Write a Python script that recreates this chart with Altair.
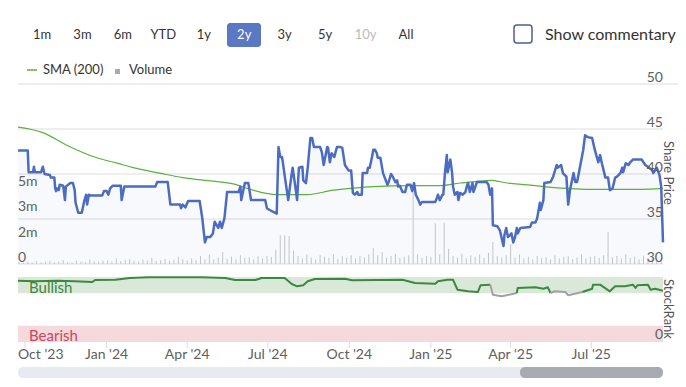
import altair as alt
import pandas as pd

# ---------------- data ----------------
price_dates = [
    "2023-09-23", "2023-10-04", "2023-10-05", "2023-10-10", "2023-10-11", "2023-10-12", "2023-10-19",
    "2023-10-21", "2023-10-23", "2023-10-29", "2023-10-30", "2023-11-03", "2023-11-04", "2023-11-05",
    "2023-11-06", "2023-11-08", "2023-11-09", "2023-11-13", "2023-11-15", "2023-11-16", "2023-11-21",
    "2023-11-24", "2023-11-26", "2023-11-27", "2023-11-30", "2023-12-04", "2023-12-07", "2023-12-09",
    "2023-12-10", "2023-12-12", "2023-12-14", "2023-12-27", "2023-12-29", "2024-01-01", "2024-01-03",
    "2024-01-05", "2024-01-08", "2024-01-17", "2024-01-18", "2024-01-21", "2024-02-25", "2024-02-27",
    "2024-03-10", "2024-03-13", "2024-03-24", "2024-03-25", "2024-03-27", "2024-03-30", "2024-04-02",
    "2024-04-15", "2024-04-18", "2024-04-21", "2024-04-23", "2024-04-27", "2024-04-30", "2024-05-02",
    "2024-05-06", "2024-05-08", "2024-05-10", "2024-05-13", "2024-05-16", "2024-05-29", "2024-05-31",
    "2024-06-01", "2024-06-05", "2024-06-09", "2024-06-12", "2024-06-28", "2024-06-30", "2024-07-03",
    "2024-07-11", "2024-07-13", "2024-07-15", "2024-07-17", "2024-07-24", "2024-07-28", "2024-07-29",
    "2024-08-02", "2024-08-03", "2024-08-05", "2024-08-09", "2024-08-10", "2024-08-13", "2024-08-15",
    "2024-08-18", "2024-08-20", "2024-08-22", "2024-08-29", "2024-08-31", "2024-09-02", "2024-09-06",
    "2024-09-07", "2024-09-09", "2024-09-11", "2024-09-14", "2024-09-17", "2024-09-21", "2024-09-23",
    "2024-09-26", "2024-09-30", "2024-10-03", "2024-10-05", "2024-10-07", "2024-10-10", "2024-10-11",
    "2024-10-15", "2024-10-16", "2024-10-21", "2024-10-22", "2024-10-24", "2024-10-27", "2024-10-28",
    "2024-10-30", "2024-11-01", "2024-11-02", "2024-11-05", "2024-11-08", "2024-11-13", "2024-11-14",
    "2024-11-17", "2024-11-19", "2024-11-22", "2024-11-24", "2024-11-25", "2024-11-27", "2024-11-30",
    "2024-12-03", "2024-12-05", "2024-12-09", "2024-12-11", "2024-12-13", "2024-12-15", "2024-12-18",
    "2024-12-20", "2024-12-22", "2025-01-06", "2025-01-08", "2025-01-09", "2025-01-11", "2025-01-14",
    "2025-01-15", "2025-01-17", "2025-01-19", "2025-01-20", "2025-01-23", "2025-01-25", "2025-01-26",
    "2025-01-28", "2025-01-31", "2025-02-01", "2025-02-03", "2025-02-06", "2025-02-09", "2025-02-11",
    "2025-02-12", "2025-02-14", "2025-02-17", "2025-02-18", "2025-02-22", "2025-03-05", "2025-03-07",
    "2025-03-09", "2025-03-11", "2025-03-12", "2025-03-17", "2025-03-20", "2025-03-24", "2025-03-25",
    "2025-03-27", "2025-03-29", "2025-04-02", "2025-04-04", "2025-04-06", "2025-04-08", "2025-04-09",
    "2025-04-12", "2025-04-23", "2025-04-25", "2025-04-29", "2025-05-01", "2025-05-04", "2025-05-05",
    "2025-05-08", "2025-05-09", "2025-05-16", "2025-05-19", "2025-05-23", "2025-05-24", "2025-05-28",
    "2025-05-30", "2025-06-03", "2025-06-05", "2025-06-07", "2025-06-11", "2025-06-13", "2025-06-15",
    "2025-06-17", "2025-06-22", "2025-06-24", "2025-06-27", "2025-07-02", "2025-07-05", "2025-07-09",
    "2025-07-11", "2025-07-13", "2025-07-17", "2025-07-20", "2025-07-22", "2025-07-25", "2025-07-28",
    "2025-07-30", "2025-08-03", "2025-08-05", "2025-08-06", "2025-08-09", "2025-08-12", "2025-08-14",
    "2025-08-17", "2025-08-27", "2025-08-31", "2025-09-03", "2025-09-08", "2025-09-09", "2025-09-13",
    "2025-09-16", "2025-09-18", "2025-09-20",
]
price_close = [
    42.6, 42.6, 40.2, 40.2, 40.8, 40.2, 40.2,
    40.8, 40.0, 39.9, 39.6, 39.6, 38.4, 38.1,
    38.4, 38.2, 38.8, 38.7, 37.1, 38.6, 39.0,
    39.0, 38.2, 36.8, 35.7, 35.7, 37.1, 37.7,
    36.6, 37.7, 37.6, 37.6, 38.1, 38.1, 37.7,
    38.4, 38.7, 38.7, 37.1, 38.6, 38.6, 39.1,
    39.1, 36.6, 36.6, 36.2, 36.6, 36.3, 37.0,
    37.0, 35.1, 32.4, 33.0, 33.0, 33.4, 34.7,
    34.0, 34.7, 34.0, 35.1, 38.0, 38.0, 38.6,
    37.1, 39.0, 39.0, 37.1, 37.1, 36.2, 36.0,
    35.6, 43.0, 41.9, 41.9, 37.1, 40.1, 40.7,
    37.9, 37.1, 40.7, 40.8, 39.3, 39.0, 40.7,
    44.0, 44.0, 43.0, 43.0, 42.4, 41.0, 43.0,
    42.9, 41.3, 42.3, 41.9, 43.0, 43.0, 42.9,
    41.0, 40.4, 40.4, 37.9, 37.7, 38.0, 37.7,
    37.7, 40.1, 40.1, 40.7, 40.7, 42.1, 42.7,
    42.7, 42.3, 41.8, 41.8, 40.1, 38.8, 39.0,
    40.0, 39.7, 39.1, 39.3, 38.6, 38.7, 38.0,
    38.0, 38.8, 38.8, 38.1, 39.0, 37.7, 37.1,
    36.6, 36.9, 36.9, 37.4, 37.7, 37.1, 37.7,
    37.7, 40.2, 42.1, 40.2, 41.6, 40.1, 38.6,
    37.7, 38.0, 37.1, 37.9, 37.7, 38.0, 38.8,
    39.0, 38.0, 39.0, 38.0, 39.1, 39.1, 38.8,
    37.7, 38.4, 34.3, 34.2, 33.7, 32.0, 33.2,
    34.0, 33.0, 33.4, 32.4, 33.0, 34.0, 33.4,
    34.0, 34.1, 34.6, 34.6, 35.1, 36.8, 36.0,
    37.1, 39.0, 39.1, 39.7, 41.0, 40.7, 41.0,
    40.1, 39.7, 36.6, 38.2, 40.1, 39.1, 39.1,
    40.1, 42.7, 44.3, 44.1, 44.0, 42.7, 41.3,
    42.1, 41.2, 39.6, 39.6, 38.2, 38.4, 39.6,
    39.7, 40.1, 40.7, 40.2, 41.2, 41.0, 41.3,
    41.6, 41.6, 41.0, 40.8, 40.4, 40.1, 40.7,
    39.9, 38.6, 32.4,
]

sma_dates = [
    "2023-09-23", "2023-10-06", "2023-10-21", "2023-11-17", "2023-12-21", "2024-01-13", "2024-01-31",
    "2024-03-01", "2024-03-27", "2024-04-30", "2024-05-23", "2024-06-14", "2024-07-11", "2024-07-26",
    "2024-08-14", "2024-09-13", "2024-10-02", "2024-10-28", "2024-12-12", "2025-01-11", "2025-02-03",
    "2025-02-26", "2025-03-09", "2025-03-28", "2025-04-20", "2025-05-08", "2025-06-04", "2025-06-26",
    "2025-07-25", "2025-08-25", "2025-09-20",
]
sma_200 = [
    45.2, 45.0, 44.6, 43.2, 41.8, 41.2, 40.7,
    40.1, 39.6, 39.2, 38.9, 38.2, 37.7, 37.7,
    37.7, 38.2, 38.4, 38.6, 38.7, 38.7, 39.0,
    39.2, 39.3, 39.0, 38.8, 38.6, 38.4, 38.3,
    38.3, 38.3, 38.4,
]

# volume, one reading every 5 days from 24 Sep 2023 (millions of shares)
volume_start = "2023-09-24"
volume_m = [
    0.12, 0.08, 0.15, 0.1, 0.18, 0.09, 0.14, 0.2, 0.11, 0.16, 0.25, 0.13, 0.1, 0.22, 0.15, 0.12, 0.3, 0.18, 0.14, 0.2,
    0.22, 0.15, 0.35, 0.18, 0.25, 0.3, 0.2, 0.16, 0.28, 0.22, 0.4, 0.19, 0.24, 0.32, 0.21, 0.27, 0.45, 0.3, 0.23,
    0.35, 0.25, 0.5, 0.3, 0.6, 0.28, 0.4, 0.75, 0.33, 0.45, 0.3, 0.55, 0.38, 0.42, 0.3, 0.48, 0.35, 0.5,
    0.45, 0.9, 1.8, 1.8, 1.75, 0.85,
    0.5, 0.35, 0.6, 0.4, 0.3, 0.55, 0.45, 0.38, 0.62, 0.33, 0.48, 0.4, 0.55,
    0.35, 0.5, 0.42, 0.6, 1.0, 0.55, 0.75, 0.4, 0.5, 0.65, 0.38, 0.45, 0.55, 4.9, 0.6, 0.4, 0.5,
    0.45, 2.55, 0.6, 2.6, 0.95, 0.5, 0.4, 0.65, 0.35, 0.55, 0.45, 0.6, 0.38, 0.7, 1.38, 0.5, 0.42, 0.55,
    1.25, 0.4, 0.6, 0.35, 0.45, 0.3, 0.5, 0.38, 0.42, 0.3, 0.55, 0.35, 0.45, 0.5, 0.32, 0.4, 0.6, 0.35,
    0.45, 0.5, 0.38, 0.55, 2.0, 0.42, 0.5, 0.35, 0.6, 0.4, 0.45, 0.3, 0.52, 0.38, 0.45, 0.35, 0.4,
]

rank_dates = [
    "2023-09-23", "2023-10-12", "2023-11-07", "2023-11-26", "2023-12-16", "2023-12-19", "2024-01-11",
    "2024-01-27", "2024-02-17", "2024-04-18", "2024-05-14", "2024-05-25", "2024-06-17", "2024-06-24",
    "2024-07-20", "2024-07-28", "2024-08-03", "2024-08-10", "2024-08-15", "2024-08-23", "2024-09-26",
    "2024-10-04", "2024-11-30", "2024-12-14", "2025-01-06", "2025-01-09", "2025-01-20", "2025-01-26",
    "2025-01-31", "2025-02-12", "2025-02-23", "2025-02-26", "2025-03-09", "2025-03-12", "2025-03-22",
    "2025-04-08", "2025-04-09", "2025-04-29", "2025-05-08", "2025-05-13", "2025-05-16", "2025-05-21",
    "2025-06-02", "2025-06-05", "2025-06-21", "2025-07-02", "2025-07-03", "2025-07-11", "2025-07-22",
    "2025-07-28", "2025-08-08", "2025-08-17", "2025-08-20", "2025-08-22", "2025-09-03", "2025-09-06",
    "2025-09-11", "2025-09-20",
]
stock_rank = [
    94.3, 93.4, 94.3, 93.4, 92.3, 95.4, 95.8,
    98.5, 99.5, 99.5, 98.5, 95.4, 95.4, 98.5,
    98.5, 89.2, 85.7, 87.2, 93.4, 96.9, 97.4,
    94.9, 95.8, 90.8, 89.7, 93.4, 95.8, 95.8,
    80.5, 78.0, 76.9, 87.2, 88.2, 72.8, 70.3,
    75.4, 83.1, 84.2, 82.0, 84.2, 75.4, 78.0,
    76.9, 71.8, 76.9, 82.0, 88.2, 88.2, 78.0,
    85.7, 85.7, 88.2, 83.1, 87.2, 88.2, 80.5,
    82.0, 78.9,
]
# style of the stretch that starts at each point: b = bullish (green), n = neutral (grey)
rank_style = [
    "b", "b", "b", "b", "b", "b", "b",
    "b", "b", "b", "b", "b", "b", "b",
    "b", "b", "b", "b", "b", "b", "b",
    "b", "b", "b", "b", "b", "b", "b",
    "b", "b", "b", "b", "n", "n", "n",
    "b", "b", "b", "b", "b", "n", "n",
    "n", "n", "b", "b", "b", "b", "b",
    "b", "b", "b", "b", "b", "b", "b",
    "b", "b",
]

rank_bands_lo = [75, 0]
rank_bands_hi = [100, 25]
rank_bands_kind = ["Bullish", "Bearish"]

price_ticks = [30, 35, 40, 45, 50]
volume_ticks = [0, 1.6e6, 3.2e6, 4.8e6]
volume_tick_labels = ["0", "2m", "3m", "5m"]
month_dates = ["2023-10-01", "2024-01-01", "2024-04-01", "2024-07-01",
               "2024-10-01", "2025-01-01", "2025-04-01", "2025-07-01"]
month_labels = ["Oct '23", "Jan '24", "Apr '24", "Jul '24",
                "Oct '24", "Jan '25", "Apr '25", "Jul '25"]
range_buttons = ["1m", "3m", "6m", "YTD", "1y", "2y", "3y", "5y", "10y", "All"]

# ---------------- tables ----------------
price_df = pd.DataFrame({"date": price_dates, "price": price_close})
sma_df = pd.DataFrame({"date": sma_dates, "sma": sma_200})
vol_df = pd.DataFrame({
    "date": pd.date_range(volume_start, periods=len(volume_m), freq="5D").strftime("%Y-%m-%d"),
    "vol": [v * 1e6 for v in volume_m],
})
rows = []
seg = 0
start = 0
n = len(rank_dates)
for i in range(1, n):
    if i == n - 1 or rank_style[i] != rank_style[i - 1]:
        for j in range(start, i + 1):
            rows.append({"date": rank_dates[j], "rank": stock_rank[j],
                         "style": rank_style[start], "seg": seg})
        seg += 1
        start = i
rank_df = pd.DataFrame(rows)
bands_df = pd.DataFrame({"lo": rank_bands_lo, "hi": rank_bands_hi, "kind": rank_bands_kind})
pticks_df = pd.DataFrame({"v": price_ticks, "lbl": [str(t) for t in price_ticks]})
vticks_df = pd.DataFrame({"v": volume_ticks, "lbl": volume_tick_labels})
months_df = pd.DataFrame({"date": month_dates, "lbl": month_labels})
buttons_df = pd.DataFrame({"b": range_buttons})

# ---------------- scales ----------------
FONT = "Lato"
XS = alt.Scale(type="utc",
               domain=[alt.DateTime(year=2023, month=9, date=23, utc=True),
                       alt.DateTime(year=2025, month=9, date=20, utc=True)],
               range=[10, 655])
PS = alt.Scale(domain=[30, 50], range=[256, 76], nice=False, zero=False)
VS = alt.Scale(domain=[0, 11.3e6], range=[256, 76], nice=False)
RS = alt.Scale(domain=[0, 100], range=[334, 269], nice=False)


def X(field="date"):
    return alt.X(f"{field}:T", scale=XS, axis=None)


def label(txt, x, y, size=13, color="#333333", align="left", baseline="middle", angle=0):
    return alt.Chart(pd.DataFrame({"t": [txt]})).mark_text(
        font=FONT, fontSize=size, color=color, align=align, baseline=baseline, angle=angle
    ).encode(x=alt.value(x), y=alt.value(y), text="t:N")


def box(x, x2, y, y2, fill, radius=0, stroke=None, sw=0):
    kw = dict(fill=fill, cornerRadius=radius)
    if stroke:
        kw.update(stroke=stroke, strokeWidth=sw)
    return alt.Chart(pd.DataFrame({"t": [0]})).mark_rect(**kw).encode(
        x=alt.value(x), x2=alt.value(x2), y=alt.value(y), y2=alt.value(y2))


layers = []

# price gridlines
grid = alt.Chart(pticks_df[pticks_df.v < 50]).mark_rule(color="#e8e8ec", strokeWidth=1.5).encode(
    y=alt.Y("v:Q", scale=PS, axis=None), x=alt.value(10), x2=alt.value(655))
grid_top = alt.Chart(pticks_df[pticks_df.v == 50]).mark_rule(color="#e8e8ec", strokeWidth=1.5).encode(
    y=alt.Y("v:Q", scale=PS, axis=None), x=alt.value(10), x2=alt.value(670))
layers += [grid, grid_top]

# area under price
area = alt.Chart(price_df).mark_area(color="#4b6cc0", opacity=0.045).encode(
    x=X(), y=alt.Y("price:Q", scale=PS, axis=None), y2=alt.datum(30))
layers.append(area)

# volume
vol = alt.Chart(vol_df).mark_rule(color="#c4c4c8", strokeWidth=1).encode(
    x=X(), y=alt.Y("vol:Q", scale=VS, axis=None), y2=alt.datum(0))
layers.append(vol)

# SMA and price
sma = alt.Chart(sma_df).mark_line(color="#5cb03c", strokeWidth=1.2, interpolate="monotone").encode(
    x=X(), y=alt.Y("sma:Q", scale=PS, axis=None))
price = alt.Chart(price_df).mark_line(color="#4b6cc0", strokeWidth=2.5, strokeJoin="round").encode(
    x=X(), y=alt.Y("price:Q", scale=PS, axis=None))
layers += [sma, price]

# axis labels for price and volume
plabels = alt.Chart(pticks_df).mark_text(font=FONT, fontSize=14, color="#606060", align="right",
                                         baseline="alphabetic", dy=-2).encode(
    y=alt.Y("v:Q", scale=PS, axis=None), x=alt.value(655), text="lbl:N")
vlabels = alt.Chart(vticks_df).mark_text(font=FONT, fontSize=14, color="#606060", align="left",
                                         baseline="alphabetic", dy=-2).encode(
    y=alt.Y("v:Q", scale=VS, axis=None), x=alt.value(10), text="lbl:N")
layers += [plabels, vlabels]

# StockRank panel
bands = alt.Chart(bands_df).mark_rect().encode(
    y=alt.Y("lo:Q", scale=RS, axis=None), y2="hi:Q", x=alt.value(10), x2=alt.value(655),
    color=alt.Color("kind:N", scale=alt.Scale(domain=["Bullish", "Bearish"],
                                              range=["#dae8da", "#f5d9dc"]), legend=None))
rank_line = alt.Chart(rank_df).mark_line(strokeWidth=2, strokeJoin="round").encode(
    x=X(), y=alt.Y("rank:Q", scale=RS, axis=None), detail="seg:N",
    color=alt.Color("style:N", scale=alt.Scale(domain=["b", "n"], range=["#3b8a3b", "#a2a2a2"]),
                    legend=None))
zero_lbl = alt.Chart(pd.DataFrame({"v": [0], "lbl": ["0"]})).mark_text(
    font=FONT, fontSize=14, color="#606060", align="right", baseline="alphabetic", dy=-3).encode(
    y=alt.Y("v:Q", scale=RS, axis=None), x=alt.value(655), text="lbl:N")
layers += [bands, rank_line, zero_lbl,
           label("Bullish", 21, 285, size=15, color="#3b8a3b", baseline="alphabetic"),
           label("Bearish", 21, 333, size=15, color="#d0445c", baseline="alphabetic")]

# time axis
xticks = alt.Chart(months_df).mark_rule(color="#dcdce0", strokeWidth=1).encode(
    x=X(), y=alt.value(334), y2=alt.value(340))
xlabels = alt.Chart(months_df.iloc[1:]).mark_text(font=FONT, fontSize=14, color="#606060",
                                                  align="center", baseline="middle").encode(
    x=X(), y=alt.value(347), text="lbl:N")
layers += [xticks, xlabels, label(month_labels[0], 10, 347, size=14, color="#606060")]

# axis titles
layers += [label("Share Price", 660, 165, size=13, color="#555555", align="center", angle=90),
           label("StockRank", 660, 301, size=13, color="#555555", align="center", angle=90)]

# navigator scrollbar
layers += [box(10, 655, 359, 370, "#e8eaf2", radius=5),
           box(512, 655, 359, 370, "#a9abb2", radius=5)]

# range selector and commentary toggle
layers.append(box(219, 253, 15, 39, "#5a78c4", radius=3))
buttons = alt.Chart(buttons_df).mark_text(font=FONT, fontSize=13, baseline="middle").encode(
    x=alt.X("b:N", scale=alt.Scale(type="point", domain=range_buttons, range=[34, 398], padding=0),
            axis=None),
    y=alt.value(27), text="b:N",
    color=alt.Color("b:N", scale=alt.Scale(domain=range_buttons,
                                           range=["#333333"] * 5 + ["#ffffff"] + ["#333333"] * 2
                                           + ["#bbbbbb", "#333333"]), legend=None))
layers.append(buttons)
layers += [box(506, 524, 17, 35, "#ffffff", radius=3, stroke="#4a5f95", sw=1.5),
           label("Show commentary", 537, 27, size=16, color="#333333")]

# legend
legend_line = alt.Chart(pd.DataFrame({"t": [0]})).mark_rule(color="#5cb03c", strokeWidth=1.5).encode(
    x=alt.value(19), x2=alt.value(29), y=alt.value(62))
layers += [legend_line, label("SMA (200)", 35, 62, size=13),
           box(107, 112, 61, 66, "#aaaaaa"), label("Volume", 121, 62, size=13)]

chart = alt.layer(*layers).resolve_scale(x="independent", y="independent", color="independent").properties(
    width=670, height=371, padding=0, autosize=alt.AutoSizeParams(type="none"), background="#ffffff"
).configure_view(stroke=None)

chart.save("out.html", embed_options={"renderer": "svg", "actions": False})
